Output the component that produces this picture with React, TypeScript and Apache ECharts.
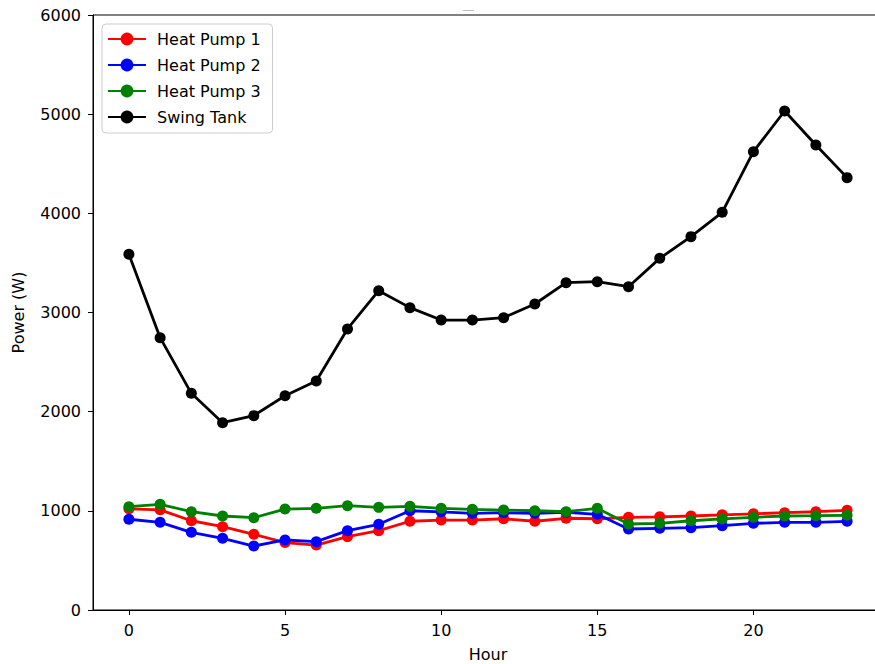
import React, { useEffect, useRef } from "react";
import * as echarts from "echarts";

const hours = Array.from({ length: 24 }, (_, i) => i);
const heatPump1 = [1020, 1010, 900, 840, 763, 680, 655, 740, 800, 895, 907, 907, 920, 895, 925, 920, 935, 940, 948, 960, 970, 981, 991, 1005];
const heatPump2 = [915, 884, 783, 723, 645, 706, 689, 800, 864, 1001, 990, 975, 981, 975, 985, 965, 817, 824, 830, 850, 874, 884, 884, 894];
const heatPump3 = [1042, 1066, 991, 948, 931, 1018, 1025, 1052, 1035, 1045, 1025, 1015, 1008, 1001, 991, 1025, 867, 874, 900, 918, 935, 948, 951, 955];
const swingTank = [3587, 2746, 2185, 1889, 1960, 2161, 2309, 2834, 3220, 3049, 2924, 2924, 2948, 3086, 3301, 3311, 3260, 3546, 3765, 4010, 4622, 5032, 4689, 4360];
const xTicks = [0, 5, 10, 15, 20];
const seriesNames = ["Heat Pump 1", "Heat Pump 2", "Heat Pump 3", "Swing Tank"];
const seriesColors = ["#ff0000", "#0000ff", "#008000", "#000000"];
const seriesData = [heatPump1, heatPump2, heatPump3, swingTank];

const FONT = "DejaVu Sans";

export default function App() {
  const ref = useRef<HTMLDivElement>(null);
  useEffect(() => {
    if (!ref.current) return;
    const chart = echarts.init(ref.current, null, { renderer: "svg" });
    chart.setOption({
      animation: false,
      backgroundColor: "#ffffff",
      textStyle: { fontFamily: FONT },
      graphic: [
        { type: "rect", shape: { x: 463, y: 10, width: 11, height: 1 }, style: { fill: "#bbbbbb" } },
      ],
      grid: {
        left: 93,
        top: 15,
        width: 790,
        height: 595,
        containLabel: false,
        outerBoundsMode: "none",
        show: true,
        borderColor: "#000",
        borderWidth: 1,
        backgroundColor: "transparent",
      },
      legend: {
        orient: "vertical",
        left: 102,
        top: 24,
        padding: [7, 12, 8, 5],
        itemGap: 10,
        itemWidth: 38,
        itemHeight: 16,
        backgroundColor: "rgba(255,255,255,0.8)",
        borderColor: "#cccccc",
        borderWidth: 1,
        borderRadius: 4,
        textStyle: { fontFamily: FONT, fontSize: 16, color: "#000", padding: [0, 0, 0, 6] },
        data: seriesNames,
      },
      xAxis: {
        type: "value",
        min: -1.15,
        max: 24.15,
        name: "Hour",
        nameLocation: "middle",
        nameGap: 36,
        nameTextStyle: { fontFamily: FONT, fontSize: 16, color: "#000" },
        axisLine: { show: true, onZero: false, lineStyle: { color: "#000" } },
        axisTick: { show: true, length: 5, customValues: xTicks, lineStyle: { color: "#000" } },
        axisLabel: { customValues: xTicks, margin: 12, fontFamily: FONT, fontSize: 16, color: "#000" },
        splitLine: { show: false },
      },
      yAxis: {
        type: "value",
        min: 0,
        max: 6000,
        interval: 1000,
        name: "Power (W)",
        nameLocation: "middle",
        nameGap: 67,
        nameTextStyle: { fontFamily: FONT, fontSize: 16, color: "#000" },
        axisLine: { show: true, onZero: false, lineStyle: { color: "#000" } },
        axisTick: { show: true, length: 5, lineStyle: { color: "#000" } },
        axisLabel: {
          margin: 12,
          fontFamily: FONT,
          fontSize: 16,
          color: "#000",
          formatter: (v: number) => String(v),
        },
        splitLine: { show: false },
      },
      series: seriesNames.map((name, i) => ({
        name,
        type: "line",
        data: hours.map((h, j) => [h, seriesData[i][j]]),
        symbol: "circle",
        symbolSize: 11,
        showSymbol: true,
        lineStyle: { color: seriesColors[i], width: 2.8 },
        itemStyle: { color: seriesColors[i] },
        z: 2 + i,
      })),
    });
    return () => chart.dispose();
  }, []);
  return (
    <div
      style={{ position: "absolute", left: 0, top: 0, width: 875, height: 664, overflow: "hidden" }}
    >
      <div ref={ref} style={{ position: "absolute", left: 0, top: 0, width: 895, height: 664 }} />
    </div>
  );
}
